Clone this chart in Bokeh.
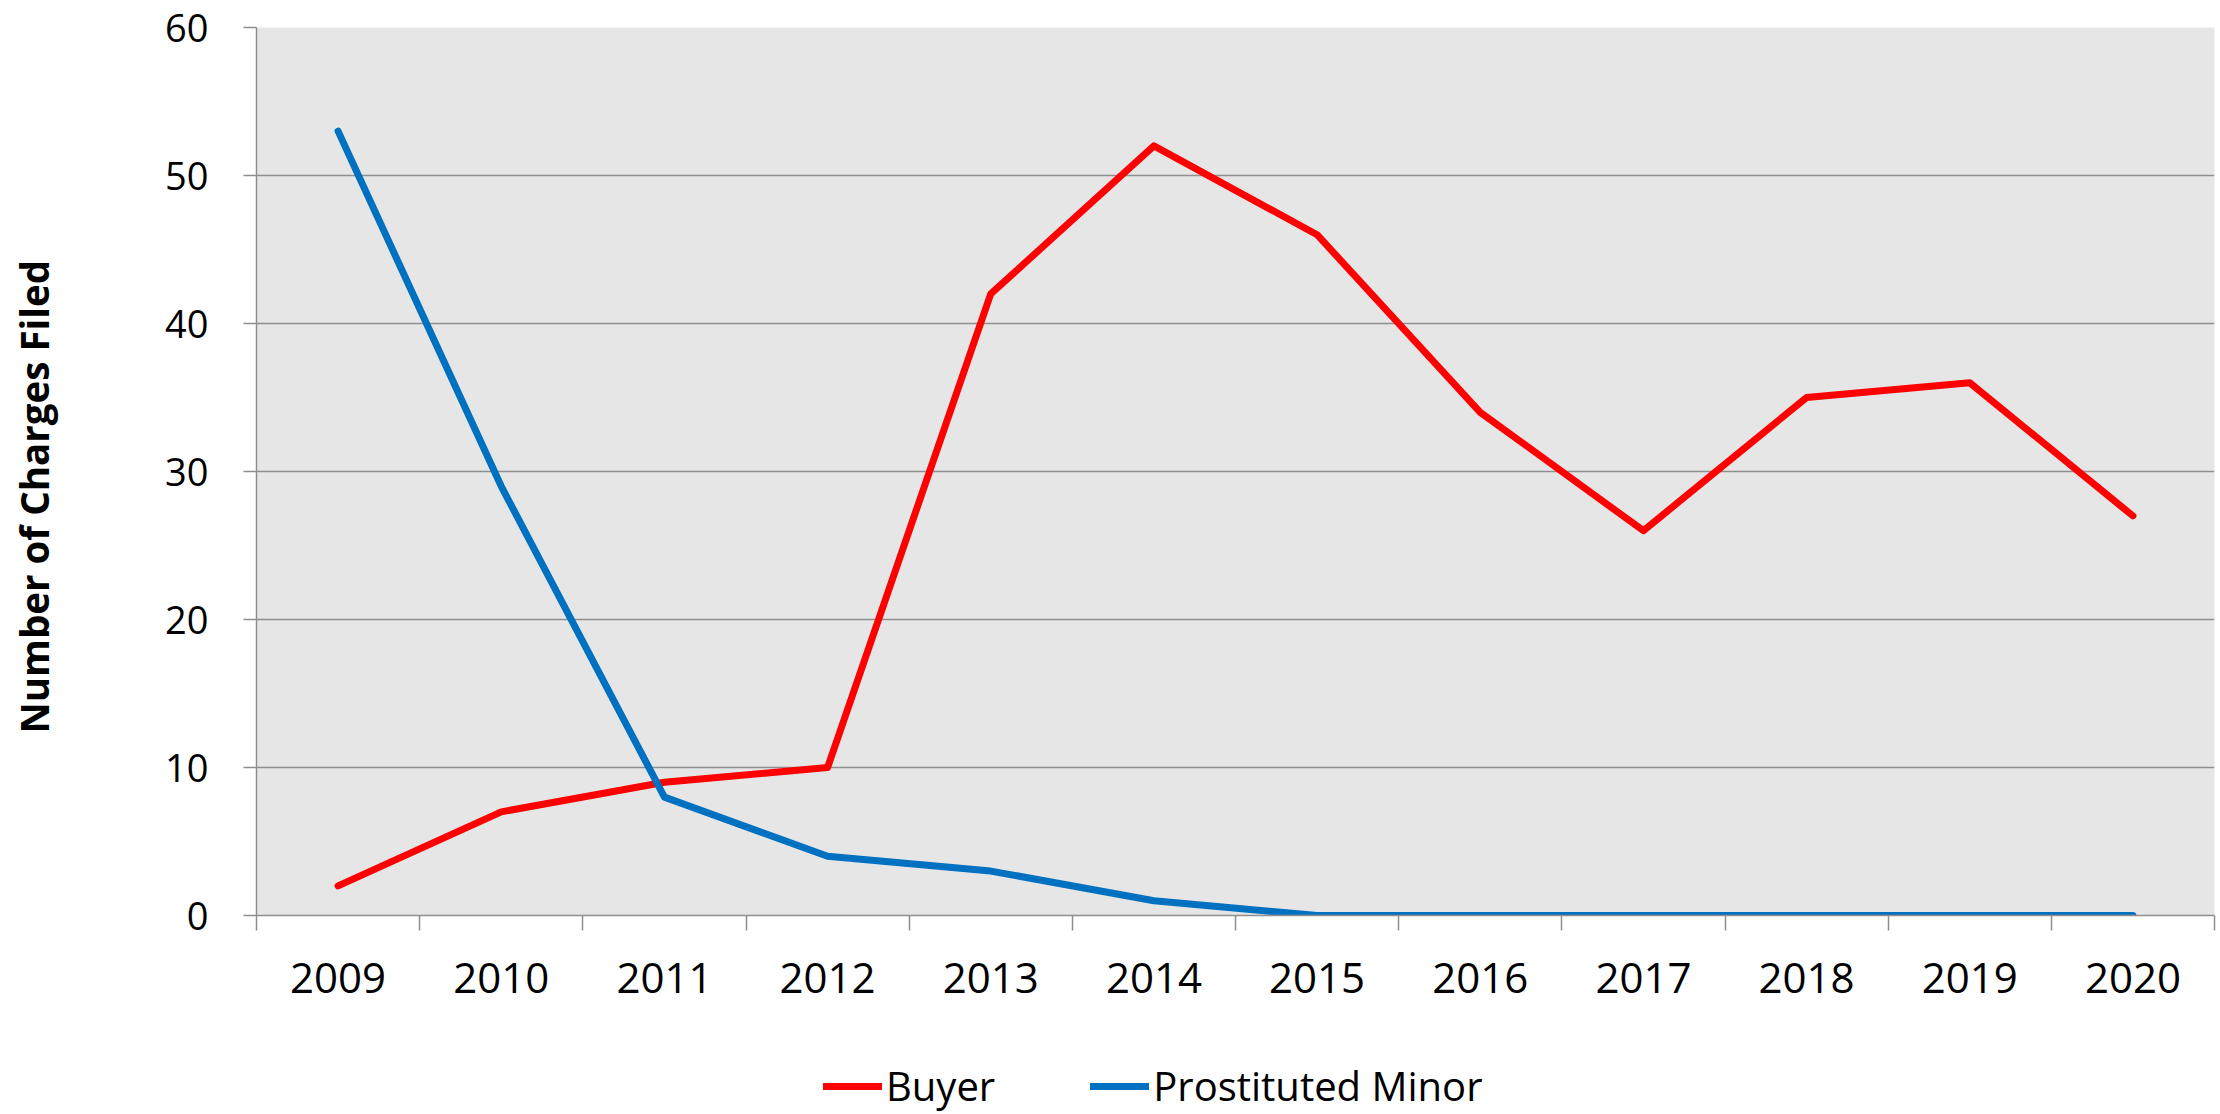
import numpy as np
from bokeh.plotting import figure
from bokeh.layouts import column
from bokeh.models import Range1d, FixedTicker, Legend, LegendItem, LinearAxis, Title
from bokeh.embed import file_html
from bokeh.resources import INLINE

years = ["2009", "2010", "2011", "2012", "2013", "2014",
         "2015", "2016", "2017", "2018", "2019", "2020"]
buyer = [2, 7, 9, 10, 42, 52, 46, 34, 26, 35, 36, 27]
prostituted_minor = [53, 29, 8, 4, 3, 1, 0, 0, 0, 0, 0, 0]
y_ticks = [0, 10, 20, 30, 40, 50, 60]
series = [buyer, prostituted_minor]
series_names = ["Buyer", "Prostituted Minor"]
series_colors = ["#ff0000", "#0070c0"]
y_title = "Number of Charges Filed"

FONT = "Open Sans"
GRID = "#8e8e8e"
W = 2216

n = len(years)
x_centers = np.arange(n) + 0.5
x_bounds = list(range(n + 1))

p = figure(width=W, height=1025, output_backend="svg", toolbar_location=None,
           x_range=Range1d(0, n), y_range=Range1d(y_ticks[0], y_ticks[-1]),
           min_border_left=251, min_border_top=27, min_border_right=2,
           min_border_bottom=110)

p.background_fill_color = "#e6e6e6"
p.border_fill_color = "white"
p.outline_line_color = None

# y axis (ticks and numbers)
yax = p.yaxis[0]
yax.ticker = FixedTicker(ticks=y_ticks)
yax.axis_line_color = GRID
yax.axis_line_width = 1.5
yax.major_tick_line_color = GRID
yax.major_tick_line_width = 1.5
yax.major_tick_out = 13
yax.major_tick_in = 0
yax.minor_tick_line_color = None
yax.major_label_text_font = FONT
yax.major_label_text_font_size = "38px"
yax.major_label_text_color = "black"
yax.major_label_standoff = 35

# tick-less spacer axis (only reserves room), then the y title
spacer = LinearAxis(ticker=FixedTicker(ticks=[]), axis_line_color=None,
                    major_tick_line_color=None, minor_tick_line_color=None,
                    major_tick_out=0, major_tick_in=0, minor_tick_out=0,
                    minor_tick_in=0, major_label_standoff=0,
                    axis_label=" ", axis_label_text_font_size="1px",
                    axis_label_standoff=94)
p.add_layout(spacer, "left")

ttl = Title(text=y_title, text_font=FONT, text_font_style="bold",
            text_font_size="38.5px", text_color="black",
            align="left", vertical_align="bottom", offset=182, standoff=10)
p.add_layout(ttl, "left")

# x axis: labels at category centres, tick marks at category boundaries
xax = p.xaxis[0]
xax.ticker = FixedTicker(ticks=list(x_centers), minor_ticks=x_bounds)
xax.major_label_overrides = {float(c): y for c, y in zip(x_centers, years)}
xax.axis_line_color = GRID
xax.axis_line_width = 1.5
xax.major_tick_line_color = None
xax.minor_tick_line_color = GRID
xax.minor_tick_line_width = 1.5
xax.minor_tick_out = 15
xax.minor_tick_in = 0
xax.major_tick_out = 15
xax.major_tick_in = 0
xax.major_label_text_font = FONT
xax.major_label_text_font_size = "42px"
xax.major_label_text_color = "black"
xax.major_label_standoff = 32

p.xgrid.grid_line_color = None
p.ygrid.ticker = FixedTicker(ticks=y_ticks)
p.ygrid.grid_line_color = GRID
p.ygrid.grid_line_width = 1.5

for vals, col in zip(series, series_colors):
    p.line(x_centers, vals, line_color=col, line_width=7,
           line_cap="round", line_join="round")

# legend strip under the chart (its lines fall outside its view range)
p2 = figure(width=W, height=89, output_backend="svg", toolbar_location=None,
            x_axis_location=None, y_axis_location=None,
            x_range=Range1d(0, n), y_range=Range1d(-2, -1),
            min_border_left=0, min_border_right=0, min_border_top=0,
            min_border_bottom=0)
p2.outline_line_color = None
p2.xgrid.visible = False
p2.ygrid.visible = False
p2.background_fill_color = "white"
p2.border_fill_color = "white"

items = []
for vals, name, col in zip(series, series_names, series_colors):
    r = p2.line(x_centers, vals, line_color=col, line_width=7, line_cap="round")
    items.append(LegendItem(label=name, renderers=[r]))

legend = Legend(items=items, orientation="horizontal", location=(567, 1),
                border_line_color=None, background_fill_alpha=0,
                label_text_font=FONT, label_text_font_size="40px",
                label_text_color="black", label_height=54,
                glyph_width=59, glyph_height=54, label_standoff=4,
                spacing=95, padding=0, margin=0)
p2.add_layout(legend, "center")

layout = column(p, p2, spacing=0)
open("out.html", "w").write(file_html(layout, INLINE))
